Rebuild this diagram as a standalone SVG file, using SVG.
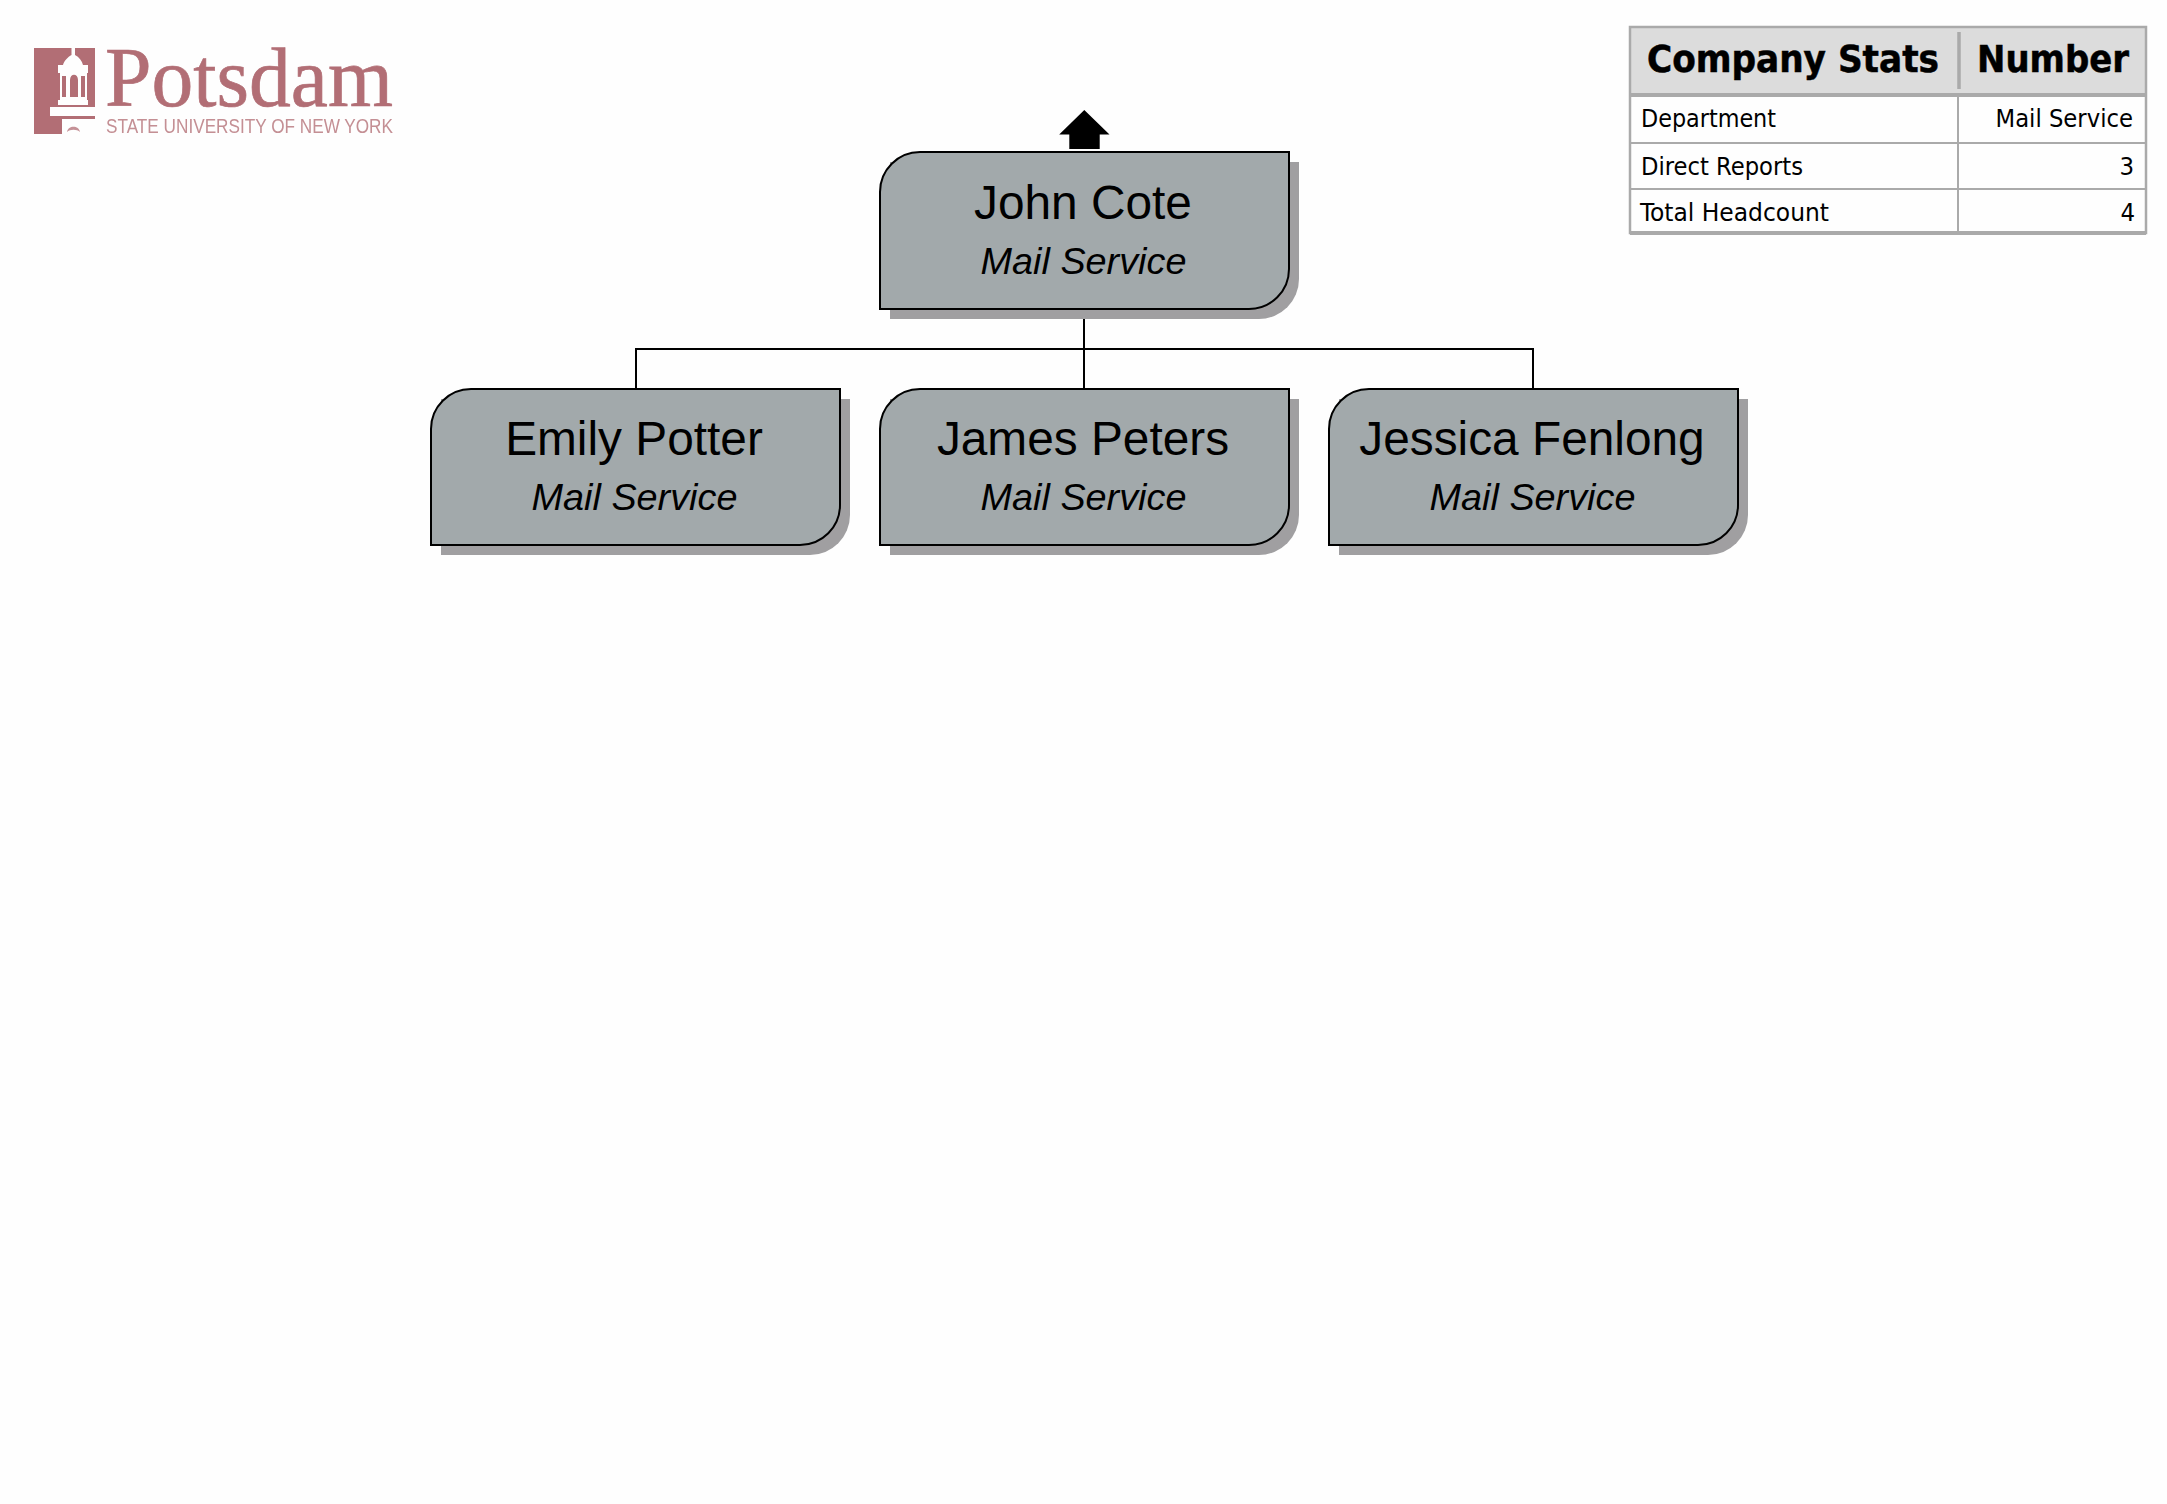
<svg xmlns="http://www.w3.org/2000/svg" width="2167" height="1504" viewBox="0 0 2167 1504">
<style>
.box{fill:#a2a9ab;stroke:#000;stroke-width:2}
.shadow{fill:#a09fa1}
.name{font:47.8px "Liberation Sans",Arial,sans-serif;text-anchor:middle;fill:#000}
.dept{font:italic 37.8px "Liberation Sans",Arial,sans-serif;text-anchor:middle;fill:#000}
.conn{fill:none;stroke:#000;stroke-width:2}
.grid{stroke:#aaa;stroke-width:2;fill:none}
.th{font:bold 38px "DejaVu Sans Condensed","DejaVu Sans",sans-serif;fill:#000;stroke:#000;stroke-width:.5}
.td{font:25.5px "DejaVu Sans Condensed","DejaVu Sans",sans-serif;fill:#000}
.logo{fill:#b26e75}
.cut{fill:#fefefe}
</style>
<defs>
<filter id="soft" x="-5%" y="-5%" width="110%" height="110%"><feGaussianBlur stdDeviation="0.6"/></filter>
<path id="shadowlow" class="shadow" d="M10 10H419V126A40 40 0 0 1 379 166H10Z"/>
<path id="boxlow" class="box" d="M40 0H409V116A40 40 0 0 1 369 156H0V40A40 40 0 0 1 40 0Z"/>
</defs>
<rect width="2167" height="1504" fill="#fefefe"/>
<g id="logo" filter="url(#soft)">
<path class="logo" d="M34 48H95V119H62V134H34Z"/>
<path class="cut" d="M71.500 48H75V55C79 57 82 61 83 65H88V73H87V100H88V105H58V100H60V73H58V65H63C64 61 68 57 71.500 55Z"/>
<path class="logo" d="M70 80C70 73 78 73 78 80V97H70ZM62 76H66V97H62ZM81 76H85V97H81Z"/>
<rect class="cut" x="50" y="107" width="45" height="9"/>
<path class="logo" opacity=".75" d="M67 132C68 125 79 125 80 132C77 129 70 129 67 132Z"/>
<text x="105" y="106" font-family="Liberation Serif,serif" font-size="84" fill="#b26e75" stroke="#b26e75" stroke-width=".7" textLength="288" lengthAdjust="spacingAndGlyphs">Potsdam</text>
<text x="106" y="133" font-family="Liberation Sans,sans-serif" font-size="19.5" fill="#c48f94" textLength="287" lengthAdjust="spacingAndGlyphs">STATE UNIVERSITY OF NEW YORK</text>
</g>
<g id="connectors">
<path class="conn" d="M1084 308V389M636 389V349H1533V389"/>
<path id="up-arrow" fill="#000" d="M1084.300 110L1109.500 134.500H1099.700V149H1069.300V134.500H1059.200Z"/>
</g>
<g id="node-john" transform="translate(880 152)">
<path class="shadow" d="M10 10H419V127A40 40 0 0 1 379 167H10Z"/>
<path class="box" d="M40 0H409V117A40 40 0 0 1 369 157H0V40A40 40 0 0 1 40 0Z"/>
<text class="name" x="203" y="66.800">John Cote</text><text class="dept" x="203.500" y="121.700">Mail Service</text></g>
<g id="node-emily" transform="translate(431 389)"><use href="#shadowlow"/><use href="#boxlow"/>
<text class="name" x="203" y="66.300">Emily Potter</text><text class="dept" x="203.500" y="120.500">Mail Service</text></g>
<g id="node-james" transform="translate(880 389)"><use href="#shadowlow"/><use href="#boxlow"/>
<text class="name" x="203" y="66.300">James Peters</text><text class="dept" x="203.500" y="120.500">Mail Service</text></g>
<g id="node-jessica" transform="translate(1329 389)"><use href="#shadowlow"/><use href="#boxlow"/>
<text class="name" x="203" y="66.300">Jessica Fenlong</text><text class="dept" x="203.500" y="120.500">Mail Service</text></g>
<g id="stats-table">
<rect x="1630" y="27" width="516" height="68" fill="#dcdcdc"/>
<path class="grid" d="M1958 95V233M1630 143H2146M1630 189H2146"/>
<path class="grid" style="stroke-width:2.500" d="M1630 27H2146V233H1630Z"/>
<path class="grid" style="stroke-width:4" d="M1630 95H2146M1630 233H2146"/>
<path class="grid" style="stroke-width:3.500" d="M1959 32V89"/>
<text class="th" x="1647" y="72" textLength="292" lengthAdjust="spacingAndGlyphs">Company Stats</text>
<text class="th" x="1977" y="72" textLength="152" lengthAdjust="spacingAndGlyphs">Number</text>
<text class="td" x="1641" y="126.500" textLength="135" lengthAdjust="spacingAndGlyphs">Department</text>
<text class="td" x="1995.500" y="126.500" textLength="137.500" lengthAdjust="spacingAndGlyphs">Mail Service</text>
<text class="td" x="1641" y="174.500" textLength="162" lengthAdjust="spacingAndGlyphs">Direct Reports</text>
<text class="td" x="2134" y="174.500" text-anchor="end">3</text>
<text class="td" x="1640" y="220.500" textLength="189" lengthAdjust="spacingAndGlyphs">Total Headcount</text>
<text class="td" x="2135" y="220.500" text-anchor="end">4</text>
</g>
</svg>
